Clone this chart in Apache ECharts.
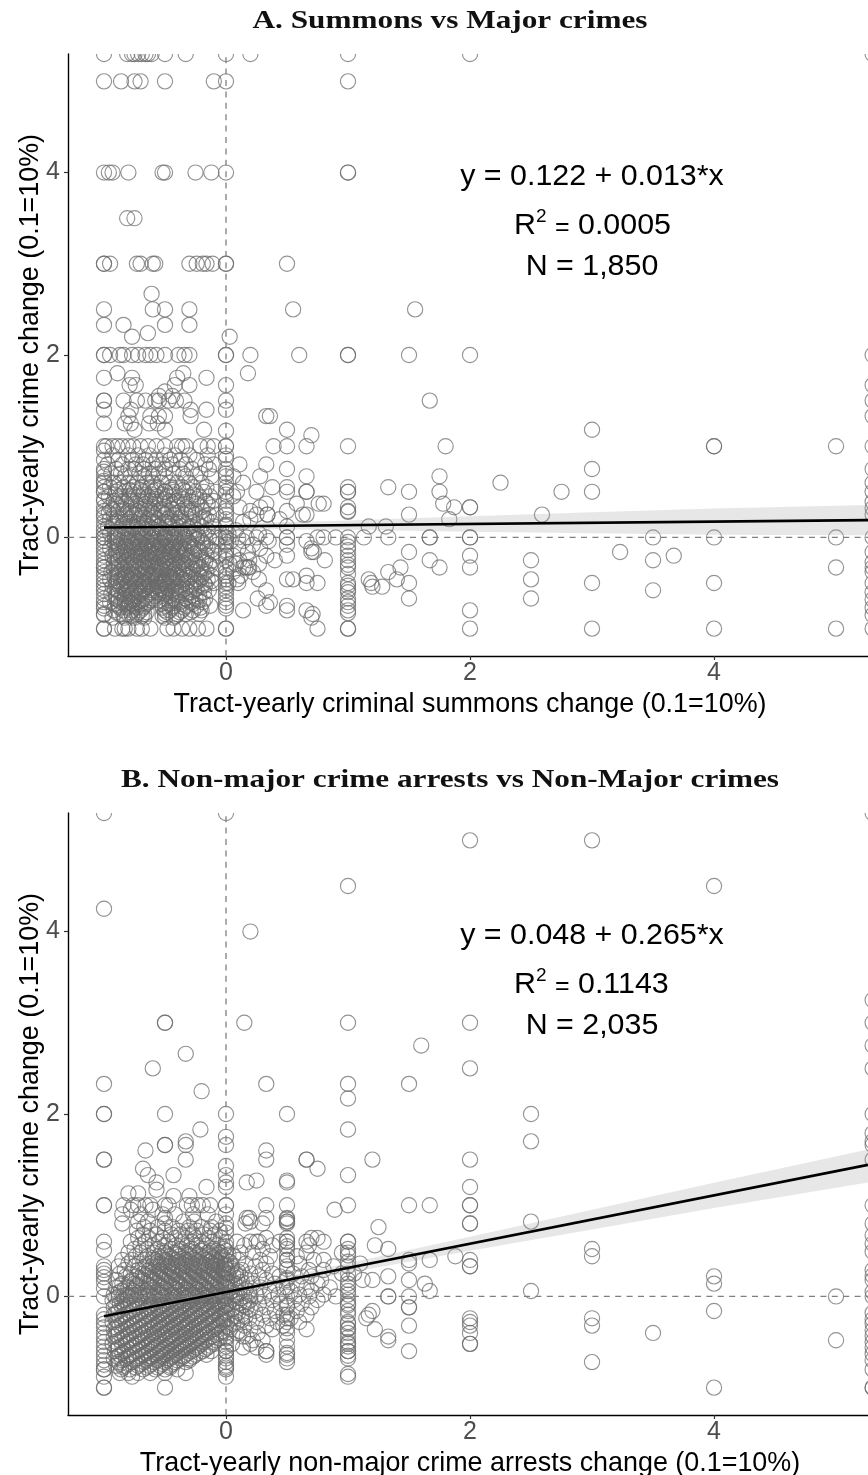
<!DOCTYPE html>
<html><head><meta charset="utf-8">
<script src="https://cdn.jsdelivr.net/npm/echarts@6/dist/echarts.min.js"></script>
<style>html,body{margin:0;padding:0;background:#fff}#c{width:868px;height:1475px}</style>
</head><body><div id="c"></div>
<script>
// ---- Panel A: rows are [y, [x...]], columns are [x, [y...]]
const aRows = [
[5.3,[-1,-.81,-.77,-.75,-.72,-.69,-.66,-.64,-.61,-.5,-.33,0,.2,1,2,5.3]],
[5,[-1,-.86,-.75,-.7,-.5,-.1,0,1]],
[4,[-1,-.96,-.93,-.8,-.52,-.5,-.25,-.12,0,1,1]],
[3.5,[-.81,-.75]],
[3,[-1,-1,-.95,-.73,-.7,-.6,-.58,-.3,-.24,-.19,-.16,-.11,0,0,.5]],
[2.67,[-.61]],
[2.5,[-1,-.6,-.5,-.3,.55,1.55]],
[2.33,[-1,-.84,-.5,-.3]],
[2.24,[-.64]],
[2.2,[-.77,.03]],
[2,[-1,-1,-.95,-.87,-.84,-.77,-.72,-.66,-.62,-.57,-.5,-.39,-.34,-.3,0,0,.2,.6,1,1,1.5,2,5.3]],
[1.8,[-.89,-.35,.18]],
[1.75,[-1,-.77,-.4,-.16]],
[1.67,[-.79,-.74,-.42,-.3,0]],
[1.6,[-.5]],
[1.55,[-.44,-.55]],
[1.5,[-1,-1,-.84,-.73,-.66,-.58,-.55,-.47,-.41,-.34,1.67,0]],
[1.4,[-1,-.78,-.29,-.16,0]],
[1.33,[-.8,-.62,-.55,-.5,-.29,.33,.36]],
[1.25,[-1,-.83,-.78,-.63,-.56]],
[1.18,[-.75,-.5,-.18,.5,3]],
[1.12,[.7]],
[1,[-1,-.98,-.93,-.89,-.85,-.8,-.76,-.7,-.64,-.57,-.5,-.4,-.36,-.33,-.21,-.15,-.1,0,0,.39,.5,.66,1,1.8,4,4,5]],
[.9,[-.93,-.8,-.72,-.63,-.5,-.42,-.3,-.15,0]],
[.85,[-.88,-.77,-.66,-.57,-.46,-.37,-.24]],
[.8,[-.97,-.85,-.74,-.68,-.6,-.52,-.44,-.33,-.17,-.1,.33,.11]],
[.75,[-1,-.9,-.8,-.75,-.67,-.58,-.5,-.38,-.28,-.14,0,.5,3]],
[.7,[-.94,-.86,-.71,-.63,-.55,-.43,-.35,-.21]],
[.67,[-1,-.83,-.78,-.67,-.6,-.5,-.33,-.25,-.12,0,.06,.28,.66,1.75]],
[.6,[-1,-.92,-.87,-.8,-.73,-.65,-.6,-.53,-.47,-.4,-.3,-.2,.14,2.25,0]],
[.55,[-.95,-.84,-.76,-.69,-.62,-.56,-.45,-.36,-.27,-.16,.38,.5,1,1.33]],
[.5,[-1,-1,-.9,-.83,-.75,-.67,-.6,-.5,-.5,-.42,-.33,-.25,-.18,-.08,0,.09,.25,.5,.66,.66,1,1,1.5,1.75,2.75,3]],
[.45,[-.96,-.87,-.8,-.72,-.64,-.57,-.48,-.38,-.31,-.22,-.13,.06]],
[.4,[-1,-.92,-.84,-.77,-.7,-.62,-.54,-.46,-.4,-.29,-.17,-.1,0]],
[.37,[-.9,-.82,-.74,-.66,-.58,-.51,-.43,-.34,-.24,-.15,.33,.58,.76,.8,1.78]],
[.33,[-1,-.95,-.86,-.78,-.67,-.6,-.5,-.4,-.33,-.2,-.12,0,.11,.28,1,1.87,2,2]],
[.29,[-.88,-.8,-.73,-.65,-.55,-.47,-.37,-.28,-.19,.5,.2,1]],
[.25,[-1,-.92,-.83,-.75,-.69,-.62,-.5,-.42,-.33,-.25,-.14,-.08,.25,.34,.34,.63,.66,1.5,2.59,0]],
[.2,[-.95,-.87,-.79,-.71,-.64,-.56,-.48,-.39,-.3,-.21,-.16,.44,.2,1.83,0]],
[.17,[-1,-.9,-.84,-.76,-.67,-.6,-.5,-.44,-.35,-.27,-.12,.14]],
[.12,[-.93,-.85,-.78,-.72,-.63,-.55,-.46,-.37,-.29,-.2,-.1,0,1.17,1.31,.5]],
[.08,[-1,-.88,-.8,-.74,-.66,-.58,-.52,-.41,-.33,-.24,-.15,.08]],
[.04,[-.95,-.86,-.77,-.7,-.61,-.54,-.45,-.36,-.26,-.18,.27,.02]],
[0,[-1,-1,-.91,-.83,-.75,-.67,-.6,-.5,-.5,-.43,-.33,-.27,-.22,-.14,-.09,-.05,0,0,.1,.17,.25,.33,.5,.5,.75,.8,.9,1,1.13,1.33,1.67,1.67,2,2,3.5,4,5,5.3]],
[-.04,[-.93,-.86,-.78,-.72,-.64,-.56,-.48,-.4,-.31,-.2,-.12,.04,.14,.35,.66]],
[-.08,[-1,-.89,-.82,-.75,-.68,-.61,-.53,-.45,-.38,-.29,-.17,-.07,0,.5,.22]],
[-.12,[-.95,-.87,-.8,-.73,-.66,-.58,-.5,-.43,-.35,-.25,-.15,.1,.28,.7]],
[-.16,[-1,-.9,-.84,-.77,-.7,-.63,-.55,-.47,-.39,-.32,-.21,-.1,0,.7,.72,.18,1.5,3.23]],
[-.2,[-.93,-.86,-.79,-.72,-.65,-.6,-.52,-.44,-.36,-.28,-.16,-.06,.5,.06,.33,2,3.67]],
[-.25,[-1,-.88,-.81,-.75,-.67,-.62,-.5,-.5,-.41,-.33,-.25,-.19,-.11,0,.81,.4,.11,.19,1.67,2.5,3.5]],
[-.29,[-.92,-.85,-.78,-.7,-.64,-.57,-.49,-.42,-.34,-.23,-.14,.27,.03,.08]],
[-.33,[-1,-1,-.9,-.83,-.75,-.67,-.6,-.54,-.5,-.46,-.38,-.3,-.2,-.08,0,.16,.18,.14,.19,1.43,1.75,2,5]],
[-.38,[-.94,-.87,-.8,-.73,-.66,-.59,-.52,-.44,-.36,-.27,-.16,.06,.22,1.33]],
[-.42,[-1,-.89,-.82,-.76,-.69,-.62,-.55,-.47,-.4,-.32,-.22,-.12,.66,0,.12]],
[-.46,[-.95,-.86,-.78,-.72,-.65,-.58,-.5,-.43,-.35,-.25,-.15,.5,.55,.27,.09,1.4,2.5,1.17]],
[-.5,[-1,-.9,-.84,-.75,-.67,-.67,-.6,-.53,-.5,-.5,-.42,-.33,-.25,-.18,-.1,0,.66,.75,.02,.1,1.19,1.5,3,4]],
[-.54,[-.93,-.87,-.8,-.71,-.64,-.56,-.48,-.39,-.29,-.2,1.2,1.28]],
[-.58,[-1,-.89,-.82,-.74,-.68,-.6,-.52,-.45,-.36,-.26,-.14,.33,0,3.5]],
[-.62,[-.94,-.85,-.78,-.7,-.63,-.55,-.5,-.41,-.33,-.22]],
[-.67,[-1,-.9,-.83,-.75,-.67,-.6,-.5,-.44,-.33,-.25,-.17,0,.26,1.5,2.5]],
[-.71,[-.95,-.86,-.79,-.72,-.64,-.5,-.38,-.28,-.19,.36]],
[-.75,[-1,-.88,-.8,-.75,-.67,-.5,-.43,-.33,-.24,-.13,0,.33,.5]],
[-.8,[-.92,-.84,-.77,-.7,-.5,-.46,-.36,-.27,-.2,.14,.5,.66,2]],
[-.84,[-1,-.87,-.8,-.73,-.67,-.5,-.4,-.33,-.22,.71]],
[-.88,[-.93,-.83,-.75,-.67,-.5,-.43,.7]],
[-1,[-1,-1,-.91,-.85,-.83,-.8,-.73,-.69,-.62,-.48,-.43,-.36,-.3,-.23,-.16,0,0,.75,1,1,2,3,4,5,5.3]]
];
const aDenseRows = [
[.52,[-.88,-.79,-.7,-.58,-.44,-.35]],
[.47,[-.91,-.76,-.68,-.61,-.52,-.43,-.27]],
[.42,[-.86,-.79,-.66,-.58,-.5,-.36,-.24]],
[.31,[-.93,-.84,-.7,-.63,-.53,-.44,-.31]],
[.27,[-.96,-.78,-.71,-.6,-.52,-.4,-.28]],
[.22,[-.89,-.82,-.67,-.59,-.46,-.37,-.18]],
[.15,[-.92,-.81,-.73,-.65,-.57,-.47,-.39,-.23]],
[.1,[-.97,-.83,-.76,-.69,-.61,-.53,-.43,-.31]],
[.06,[-.91,-.82,-.72,-.64,-.56,-.48,-.38,-.28]],
[.02,[-.89,-.8,-.73,-.68,-.59,-.5,-.42,-.34,-.23]],
[-.02,[-.89,-.81,-.74,-.69,-.62,-.57,-.51,-.46,-.41,-.35,-.24]],
[-.06,[-.91,-.84,-.76,-.7,-.65,-.59,-.54,-.47,-.42,-.37,-.3,-.19]],
[-.1,[-.88,-.83,-.77,-.71,-.64,-.6,-.55,-.49,-.44,-.38,-.27]],
[-.14,[-.9,-.82,-.75,-.69,-.62,-.56,-.52,-.45,-.4,-.34,-.23,-.12]],
[-.18,[-.87,-.81,-.74,-.68,-.61,-.58,-.5,-.46,-.41,-.34,-.26]],
[-.22,[-.91,-.84,-.77,-.7,-.63,-.57,-.54,-.48,-.42,-.37,-.3,-.2]],
[-.27,[-.89,-.83,-.76,-.72,-.66,-.6,-.55,-.47,-.43,-.36,-.28,-.17]],
[-.31,[-.87,-.8,-.74,-.68,-.62,-.58,-.52,-.44,-.4,-.33,-.24,-.13]],
[-.35,[-.92,-.85,-.78,-.71,-.65,-.57,-.53,-.48,-.42,-.35,-.27,-.21]],
[-.4,[-.88,-.83,-.77,-.7,-.64,-.6,-.54,-.46,-.41,-.34,-.29,-.18]],
[-.44,[-.91,-.84,-.79,-.74,-.67,-.61,-.56,-.49,-.44,-.37,-.3,-.2]],
[-.48,[-.89,-.82,-.76,-.69,-.63,-.57,-.52,-.46,-.4,-.32,-.23,-.12]],
[-.52,[-.86,-.81,-.74,-.68,-.62,-.55,-.49,-.43,-.36,-.27,-.17]],
[-.56,[-.91,-.84,-.78,-.73,-.66,-.6,-.54,-.47,-.41,-.33,-.24]],
[-.6,[-.88,-.81,-.75,-.69,-.62,-.56,-.49,-.43,-.38,-.3,-.18]],
[-.64,[-.9,-.83,-.77,-.72,-.65,-.58,-.52,-.46,-.39,-.28]],
[-.69,[-.88,-.81,-.76,-.69,-.61,-.55,-.47,-.41,-.31,-.22]],
[-.73,[-.91,-.83,-.77,-.7,-.65,-.53,-.46,-.36,-.27]],
[-.77,[-.87,-.81,-.73,-.68,-.52,-.44,-.34,-.21]],
[-.82,[-.9,-.78,-.72,-.65,-.48,-.38,-.29]],
[-.86,[-.84,-.77,-.69,-.52,-.41]]
];
const aCols = [
[-1,[.95,.85,.72,.62,.55,.42,.29,.22,.12,.04,-.04,-.12,-.2,-.29,-.38,-.46,-.54,-.62,-.71,-.78,-.85]],
[0,[1.17,.86,.7,.55,.47,.29,.14,.05,-.05,-.14,-.2,-.38,-.46,-.54,-.62,-.71,-.78]],
[1,[.28,-.05,-.1,-.14,-.2,-.25,-.3,-.33,-.4,-.5,-.53,-.57,-.6,-.67,-.71,-.75,-.8,-.83]],
[5.3,[1.67,1.5,1.33,1,.75,.6,.5,.39,.32,.25,-.16,-.27,-.33,-.38,-.5,-.6,-.68,-.77,-.85]]
];
// ---- Panel B
const bRows = [
[5.3,[-1,0,5.3]],
[5,[2,3]],
[4.5,[1,4]],
[4.25,[-1]],
[4,[.2]],
[3,[-.5,-.5,.15,1,2]],
[2.75,[1.6]],
[2.66,[-.33]],
[2.5,[-.6,2]],
[2.33,[-1,.33,1,1.5]],
[2.25,[-.2]],
[2.17,[1]],
[2,[-1,-1,-.5,0,.5,2.5]],
[1.83,[-.21,1]],
[1.7,[-.33,2.5]],
[1.66,[-.5,-.5,-.33]],
[1.6,[-.66,.33]],
[1.5,[-1,-1,-.33,.33,.66,.66,1.2,2]],
[1.4,[-.68,.75]],
[1.33,[-.64,-.43,1]],
[1.27,[.5,.25]],
[1.25,[-.57,.17,.5]],
[1.2,[-.16,2]],
[1.17,[-.57]],
[1.13,[-.8,-.72]],
[1.1,[-.43,-.3]],
[1,[-1,-1,-.84,-.76,-.72,-.66,-.62,-.5,-.47,-.32,-.28,-.23,-.19,-.13,0,0,.33,.5,1,1.5,1.67,2,2]],
[.95,[.89,-.78,-.6]],
[.9,[-.85,-.7,-.52,-.42,-.27,-.15]],
[.86,[-.5,.17,.19,.33,.5]],
[.82,[-.72,-.64,-.35,-.26,-.08,.5,.2,.5,2.5]],
[.8,[-.85,-.5,.16,.3,2,2]],
[.76,[-.67,-.56,-.44,-.3,-.2,-.12,1.25]],
[.72,[-.73,-.62,-.5,-.39,-.31,-.24,-.13,-.05]],
[.68,[-.68,-.57,-.45,-.37,-.27,-.18,-.09]],
[.64,[-.72,-.63,-.52,-.42,-.33,-.25,-.14,-.04,.33,.5,.7,.75]],
[.6,[-.78,-.66,-.55,-.47,-.36,-.28,-.2,-.11,0,.09,.2,.25,.27,.44,.5,.66,.8,1]],
[.56,[-.7,-.6,-.5,-.41,-.32,-.24,-.16,-.07,.15,.38,1.22,.68]],
[.52,[-.75,-.65,-.56,-.45,-.37,-.28,-.19,-.1,-.02,.3,.5,1.33,3]],
[.48,[-.8,-.7,-.59,-.5,-.42,-.33,-.25,-.15,-.05,.12,.22,.66,.95,1]],
[.44,[-.74,-.64,-.55,-.46,-.38,-.29,-.2,-.12,-.03,.06,.36,.58,1.88,3]],
[.4,[-.85,-.77,-.67,-.58,-.5,-.41,-.33,-.25,-.16,-.08,0,.1,.28,.5,.72,.8,1.5,1.67,2]],
[.36,[-.8,-.71,-.62,-.53,-.45,-.36,-.28,-.2,-.11,-.04,.16,.33,.6,1.1,1.5]],
[.33,[-.88,-.75,-.66,-.57,-.48,-.4,-.32,-.23,-.14,-.06,.05,.24,.5,.88,1,2,2,-1]],
[.29,[-.83,-.72,-.63,-.54,-.44,-.36,-.27,-.19,-.1,-.02,.13,.3,.68,.8]],
[.25,[-.87,-.78,-.68,-.58,-.5,-.42,-.33,-.25,-.15,-.07,.02,.08,.2,.38,.55,.95,1.05]],
[.22,[-.82,-.73,-.63,-.54,-.46,-.37,-.29,-.2,-.12,-.03,.12,.27,.44,.62,.7,1.33,4]],
[.18,[-.9,-.77,-.68,-.59,-.51,-.41,-.33,-.24,-.16,-.08,.01,.17,.33,.5,.78,1,1.12,1.2,1.5]],
[.14,[-.85,-.75,-.65,-.56,-.47,-.38,-.3,-.21,-.13,-.04,.07,.22,.4,.58,.75,1.63,4]],
[.1,[-.9,-.8,-.7,-.6,-.52,-.43,-.35,-.26,-.18,-.09,0,.12,.28,.47,.66,.85,1]],
[.06,[-.86,-.76,-.66,-.56,-.48,-.39,-.31,-.22,-.14,-.05,.05,.19,.36,.53,.7,1.67,2.5]],
[.02,[-.92,-.81,-.71,-.62,-.53,-.44,-.35,-.27,-.18,-.1,-.01,.09,.25,.43,.6,.8,1]],
[0,[-1,-.88,-.78,-.66,-.58,-.49,-.4,-.31,-.23,-.15,-.06,0,.15,.31,.5,.68,.9,1.33,1.33,1.5,5,5.3]],
[-.04,[-.93,-.83,-.73,-.63,-.54,-.45,-.36,-.28,-.2,-.11,-.02,.05,.2,.38,.56,.75]],
[-.08,[-.87,-.78,-.68,-.59,-.5,-.41,-.33,-.24,-.16,-.07,.02,.11,.27,.45,.62,1]],
[-.12,[-.92,-.83,-.72,-.63,-.55,-.46,-.37,-.29,-.2,-.12,-.03,.17,.33,.5,.7,1.5,1.5]],
[-.16,[-.88,-.77,-.67,-.58,-.5,-.41,-.33,-.25,-.16,-.08,.01,.08,.24,.4,.58,1,1.2,4]],
[-.2,[-.92,-.83,-.73,-.63,-.54,-.45,-.37,-.28,-.2,-.11,-.04,.13,.3,.47,.66,1.17]],
[-.24,[-.87,-.78,-.68,-.59,-.5,-.41,-.32,-.24,-.15,-.06,.04,.19,.36,.53,.5,1.15,2,3]],
[-.28,[-.93,-.82,-.72,-.63,-.55,-.46,-.37,-.29,-.2,-.11,-.02,.09,.25,.42,.6,1,2]],
[-.32,[-.87,-.77,-.67,-.58,-.5,-.42,-.33,-.24,-.16,-.07,.15,.33,.47,1.5,2,3]],
[-.36,[-.92,-.82,-.72,-.63,-.54,-.45,-.36,-.28,-.2,-.1,.03,.2,.38,.66,1.22,1]],
[-.4,[-.88,-.78,-.68,-.59,-.5,-.41,-.33,-.25,-.15,-.05,.09,.26,.5,1,2,3.5]],
[-.44,[-.92,-.83,-.73,-.64,-.55,-.46,-.38,-.29,-.21,-.12,0,.14,.17,1.33]],
[-.48,[-.87,-.78,-.68,-.6,-.5,-.42,-.33,-.25,-.16,-.08,.22,.3,.5,5,1.33]],
[-.52,[-.93,-.82,-.73,-.63,-.55,-.46,-.37,-.29,-.2,-.1,.05,1,2,2,.2]],
[-.56,[-.88,-.77,-.67,-.59,-.5,-.41,-.33,-.24,-.15,.14,.25]],
[-.6,[-.91,-.83,-.72,-.63,-.54,-.45,-.37,-.28,-.19,-.12,0,.33,.33,1,1.5]],
[-.64,[-.87,-.78,-.68,-.58,-.5,-.42,-.33,-.25,-.16,.5,.33]],
[-.68,[-.92,-.82,-.73,-.63,-.55,-.46,-.38,-.3,.5,0,1]],
[-.72,[-.88,-.77,-.67,-.59,-.5,-.42,-.33,3]],
[-.76,[-.9,-.83,-.72,-.63,-.54,-.46,0]],
[-.8,[-.86,-.79,-.68,-.58,-.5,-.4,-1,0]],
[-.84,[-.87,-.8,-.72,-.62,-.5,-.33]],
[-.88,[-.77,1,0]],
[-1,[-1,-1,-.5,4,5.3]]
];
const bDenseRows = [
[.5,[-.52,-.39,-.3,-.21,-.13,-.07]],
[.46,[-.48,-.4,-.31,-.23,-.14,-.06,.02]],
[.42,[-.6,-.52,-.44,-.35,-.27,-.18,-.1,-.04]],
[.38,[-.56,-.48,-.39,-.3,-.22,-.13,-.07,.03]],
[.34,[-.6,-.51,-.43,-.34,-.26,-.17,-.09,-.01]],
[.31,[-.65,-.55,-.47,-.38,-.29,-.21,-.12,-.04,.04]],
[.27,[-.6,-.52,-.44,-.35,-.26,-.18,-.09,-.02,.1]],
[.23,[-.66,-.56,-.48,-.39,-.31,-.22,-.14,-.05,.06]],
[.2,[-.71,-.61,-.53,-.44,-.35,-.27,-.18,-.1,-.01,.09]],
[.16,[-.79,-.7,-.62,-.49,-.4,-.32,-.22,-.14,-.06,.03,.13]],
[.12,[-.87,-.73,-.63,-.54,-.45,-.37,-.28,-.19,-.11,-.02,.08]],
[.08,[-.83,-.74,-.64,-.5,-.41,-.33,-.24,-.16,-.07,.02,.16]],
[.04,[-.88,-.78,-.68,-.59,-.51,-.42,-.33,-.25,-.16,-.08,.03,.11]],
[.01,[-.84,-.75,-.64,-.55,-.46,-.37,-.29,-.2,-.12,-.03,.07,.2]],
[-.02,[-.9,-.8,-.7,-.6,-.52,-.43,-.34,-.26,-.17,-.09,-.01,.12]],
[-.06,[-.85,-.75,-.65,-.56,-.47,-.38,-.3,-.22,-.13,-.05,.08,.18]],
[-.1,[-.9,-.8,-.7,-.61,-.52,-.43,-.35,-.27,-.18,-.09,0,.14]],
[-.14,[-.85,-.75,-.65,-.56,-.48,-.39,-.3,-.22,-.14,-.05,.05,.2]],
[-.18,[-.9,-.8,-.7,-.6,-.52,-.43,-.35,-.26,-.18,-.09,-.01,.1]],
[-.22,[-.85,-.75,-.65,-.56,-.47,-.39,-.3,-.22,-.13,-.05,.07,.16]],
[-.26,[-.9,-.8,-.7,-.61,-.52,-.43,-.35,-.26,-.17,-.09,-.02,.13]],
[-.3,[-.85,-.75,-.65,-.56,-.48,-.39,-.31,-.22,-.14,-.05,.06]],
[-.34,[-.9,-.8,-.7,-.6,-.52,-.43,-.34,-.26,-.18,-.08,.02]],
[-.38,[-.85,-.75,-.65,-.56,-.48,-.39,-.3,-.22,-.13,-.03,.11]],
[-.42,[-.9,-.8,-.7,-.61,-.52,-.44,-.35,-.27,-.18,-.08]],
[-.46,[-.85,-.75,-.66,-.57,-.48,-.4,-.31,-.23,-.14,-.05]],
[-.5,[-.9,-.8,-.7,-.61,-.53,-.44,-.35,-.27,-.18,-.1]],
[-.54,[-.85,-.75,-.65,-.57,-.48,-.39,-.31,-.22,-.13]],
[-.58,[-.89,-.8,-.7,-.61,-.52,-.43,-.35,-.26,-.17]],
[-.62,[-.85,-.75,-.65,-.56,-.48,-.4,-.31,-.22]],
[-.66,[-.89,-.8,-.7,-.61,-.52,-.44,-.35,-.27]],
[-.7,[-.85,-.75,-.65,-.56,-.48,-.4,-.3]],
[-.74,[-.87,-.8,-.7,-.61,-.52,-.44]],
[-.78,[-.84,-.74,-.65,-.56,-.46]]
];
const bCols = [
[-1,[.6,.51,.29,.25,.21,.16,.09,-.2,-.25,-.3,-.34,-.4,-.45,-.5,-.55,-.6,-.65,-.7,-.75,-.8,-.88]],
[0,[1.75,1.66,1.43,1.33,1.25,1.2,.9,.8,.75,.7,.55,.5,.45,.35,.3,.25,.15,.1,-.1,-.18,-.25,-.33,-.4,-.46,-.5,-.55,-.6,-.65,-.72,-.78]],
[.5,[.85,.8,.6,.55,.45,.4,.3,.2,.1,-.1,-.2,-.28,-.35,-.55,-.62,-.72]],
[1,[.6,.52,.45,.38,.25,.14,.06,-.04,-.1,-.2,-.3,-.35,-.45,-.5,-.55,-.6,-.65,-.85]],
[5.3,[3.25,3,2.75,2.5,2,1.79,1.7,1.66,1.5,1,.8,.67,.58,.49,.29,.23,.18,.05,-.18,-.25,-.3,-.37,-.43,-.5,-.56,-.63,-.7,-.8,-1]]
];
// ---- Fit lines and confidence bands
const fitX = [-1, 5.262];
const fitAY = [0.109, 0.19];
const fitBY = [-0.217, 1.442];
const bandX = [-1,-.5,0,1,2,3,4,5.262];
const bandALow = [.05,.085,.09,.085,.063,.045,.03,.025];
const bandAHigh = [.168,.146,.154,.185,.233,.277,.318,.355];
const bandBLow = [-.27,-.115,.02,.26,.5,.735,.97,1.25];
const bandBHigh = [-.165,-.055,.076,.365,.655,.95,1.245,1.61];
// ---- Axes
const xRange = [-1.295, 5.262];
const yRange = [-1.3, 5.3];
const xTicks = [0,2,4];
const yTicks = [0,2,4];

function pts(rows, dense, cols){
  const out=[];
  rows.concat(dense).forEach(r=>r[1].forEach(x=>out.push([x,r[0]])));
  cols.forEach(c=>c[1].forEach(y=>out.push([c[0],y])));
  return out;
}
const F='"Liberation Sans",Arial,sans-serif';
function xAxis(i,name,gap){return {gridIndex:i,type:'value',min:xRange[0],max:xRange[1],
  name,nameLocation:'middle',nameGap:gap,nameTextStyle:{fontFamily:F,fontSize:26.9,color:'#000',padding:[0,0,0,4]},
  axisLine:{show:true,onZero:false,lineStyle:{color:'#000',width:1.4}},
  axisTick:{show:true,length:4,customValues:xTicks,lineStyle:{color:'#333',width:1.2}},
  axisLabel:{fontFamily:F,fontSize:25,color:'#4d4d4d',margin:5,customValues:xTicks},
  splitLine:{show:false}};}
function yAxis(i,name){return {gridIndex:i,type:'value',min:yRange[0],max:yRange[1],
  name,nameLocation:'middle',nameGap:24,nameMoveOverlap:false,nameTextStyle:{fontFamily:F,fontSize:26.9,color:'#000'},
  axisLine:{show:true,onZero:false,lineStyle:{color:'#000',width:1.4}},
  axisTick:{show:true,length:4,customValues:yTicks,lineStyle:{color:'#333',width:1.2}},
  axisLabel:{fontFamily:F,fontSize:25,color:'#4d4d4d',margin:8,customValues:yTicks},
  splitLine:{show:false}};}
function panel(i,data,fitY,low,high){
  const base={xAxisIndex:i,yAxisIndex:i,silent:true,animation:false};
  const dash={color:'#7f7f7f',width:1.3,type:[6,5.4]};
  return [
   {...base,type:'custom',coordinateSystem:'cartesian2d',clip:true,z:2,data,encode:{x:0,y:1},
    renderItem:(p,api)=>{
      const c=api.coord([api.value(0),api.value(1)]);
      return {type:'circle',shape:{cx:c[0],cy:c[1],r:7.6},
        style:{fill:'none',stroke:'rgba(105,105,105,0.72)',lineWidth:1.15}};
    }},
   {...base,type:'line',data:[[0,yRange[0]],[0,yRange[1]]],symbol:'none',lineStyle:dash,z:3},
   {...base,type:'line',data:[[xRange[0],0],[xRange[1],0]],symbol:'none',lineStyle:dash,z:3},
   {...base,type:'custom',coordinateSystem:'cartesian2d',clip:true,z:4,
    data:bandX.map((x,k)=>[x,low[k],high[k]]),encode:{x:0,y:[1,2]},
    renderItem:(p,api)=>{
      if(p.dataIndex!==0) return null;
      const up=bandX.map((x,k)=>api.coord([x,high[k]]));
      const dn=bandX.map((x,k)=>api.coord([x,low[k]])).reverse();
      return {type:'polygon',shape:{points:up.concat(dn)},style:{fill:'rgba(153,153,153,0.24)'}};
    }},
   {...base,type:'line',data:fitX.map((x,k)=>[x,fitY[k]]),symbol:'none',z:5,
    lineStyle:{color:'#000',width:2.6}}
  ];
}
function txt(x,y,t,size,extra){return {type:'text',x,y,z:20,silent:true,
  style:Object.assign({text:t,font:size+'px '+F,fill:'#000',align:'center',verticalAlign:'middle'},extra||{})};}
function annotations(top,eq,r2,n){
  return [
   txt(592,top,eq,30.4),
   txt(514,top+49,'R',30.4,{align:'left'}),
   txt(536,top+40,'2',19,{align:'left'}),
   txt(555,top+51,'=',25,{align:'left'}),
   txt(578,top+49,r2,30.4,{align:'left'}),
   txt(592,top+90,n,30.4)
  ];
}
const titleFont='bold 25px "Liberation Serif",serif';
function heading(y,t){return {type:'text',x:450,y,scaleX:1.25,z:20,silent:true,
  style:{text:t,font:titleFont,fill:'#111',align:'center',verticalAlign:'middle'}};}
const chart=echarts.init(document.getElementById('c'),null,{renderer:'canvas'});
chart.setOption({
  animation:false,
  backgroundColor:'#fff',
  grid:[{left:68,top:54,right:0,height:602,outerBoundsMode:'none'},{left:68,top:813,right:0,height:602,outerBoundsMode:'none'}],
  xAxis:[xAxis(0,'Tract-yearly criminal summons change (0.1=10%)',35),xAxis(1,'Tract-yearly non-major crime arrests change (0.1=10%)',35)],
  yAxis:[yAxis(0,'Tract-yearly crime change (0.1=10%)'),yAxis(1,'Tract-yearly crime change (0.1=10%)')],
  series:[...panel(0,pts(aRows,aDenseRows,aCols),fitAY,bandALow,bandAHigh),...panel(1,pts(bRows,bDenseRows,bCols),fitBY,bandBLow,bandBHigh)],
  graphic:[
    heading(22,'A. Summons vs Major crimes'),
    heading(781,'B. Non-major crime arrests vs Non-Major crimes'),
    ...annotations(177,'y = 0.122 + 0.013*x','0.0005','N = 1,850'),
    ...annotations(936,'y = 0.048 + 0.265*x','0.1143','N = 2,035')
  ]
});
</script></body></html>
